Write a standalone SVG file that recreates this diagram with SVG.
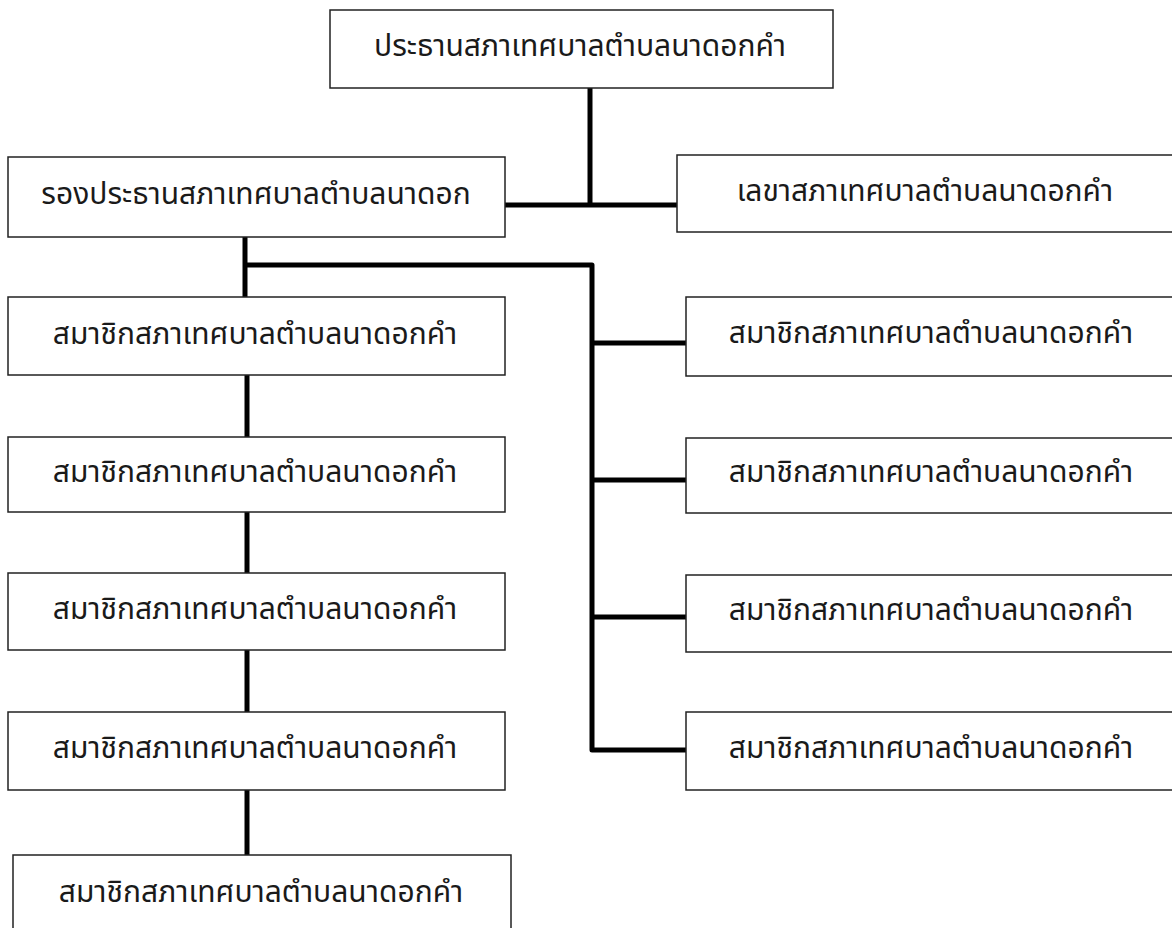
<svg xmlns="http://www.w3.org/2000/svg" width="1172" height="928" viewBox="0 0 1172 928">
<style>
.box{fill:#fff;stroke:#222;stroke-width:1.5}
.t{font-family:"Noto Sans Thai","Noto Sans","DejaVu Sans",sans-serif;font-size:30px;fill:#1a1a1a;text-anchor:middle}
.c{fill:none;stroke:#000;stroke-width:5;stroke-linejoin:round}
</style>
<rect width="1172" height="928" fill="#fff"/>
<g id="connectors">
<path class="c" d="M590 88 V205"/>
<path class="c" d="M505 205 H677"/>
<path class="c" d="M245 237 V297"/>
<path class="c" d="M245 265 H592 V750 H688"/>
<path class="c" d="M592 343 H688"/>
<path class="c" d="M592 480 H688"/>
<path class="c" d="M592 617 H688"/>
<path class="c" d="M247 375 V437"/>
<path class="c" d="M247 512 V573"/>
<path class="c" d="M247 650 V712"/>
<path class="c" d="M247 790 V855"/>
</g>
<g id="n-chair"><rect class="box" x="330" y="10" width="503" height="78"/><text class="t" x="580" y="56">ประธานสภาเทศบาลตำบลนาดอกคำ</text></g>
<g id="n-vice"><rect class="box" x="8" y="157" width="497" height="80"/><text class="t" x="256" y="204">รองประธานสภาเทศบาลตำบลนาดอก</text></g>
<g id="n-sec"><rect class="box" x="677" y="155" width="500" height="77"/><text class="t" x="925" y="201">เลขาสภาเทศบาลตำบลนาดอกคำ</text></g>
<g id="n-l1"><rect class="box" x="8" y="297" width="497" height="78"/><text class="t" x="255" y="344">สมาชิกสภาเทศบาลตำบลนาดอกคำ</text></g>
<g id="n-l2"><rect class="box" x="8" y="437" width="497" height="75"/><text class="t" x="255" y="482">สมาชิกสภาเทศบาลตำบลนาดอกคำ</text></g>
<g id="n-l3"><rect class="box" x="8" y="573" width="497" height="77"/><text class="t" x="255" y="619">สมาชิกสภาเทศบาลตำบลนาดอกคำ</text></g>
<g id="n-l4"><rect class="box" x="8" y="712" width="497" height="78"/><text class="t" x="255" y="758">สมาชิกสภาเทศบาลตำบลนาดอกคำ</text></g>
<g id="n-l5"><rect class="box" x="13" y="855" width="498" height="80"/><text class="t" x="261" y="902">สมาชิกสภาเทศบาลตำบลนาดอกคำ</text></g>
<g id="n-r1"><rect class="box" x="686" y="297" width="491" height="79"/><text class="t" x="931" y="343">สมาชิกสภาเทศบาลตำบลนาดอกคำ</text></g>
<g id="n-r2"><rect class="box" x="686" y="438" width="491" height="75"/><text class="t" x="931" y="482">สมาชิกสภาเทศบาลตำบลนาดอกคำ</text></g>
<g id="n-r3"><rect class="box" x="686" y="575" width="491" height="77"/><text class="t" x="931" y="620">สมาชิกสภาเทศบาลตำบลนาดอกคำ</text></g>
<g id="n-r4"><rect class="box" x="686" y="712" width="491" height="78"/><text class="t" x="931" y="758">สมาชิกสภาเทศบาลตำบลนาดอกคำ</text></g>
</svg>
